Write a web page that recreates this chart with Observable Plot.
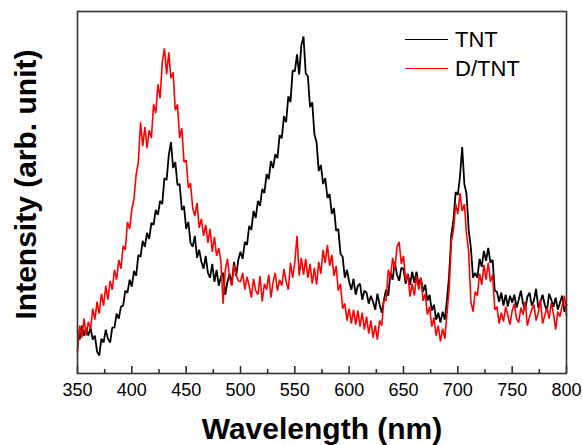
<!DOCTYPE html>
<html>
<head>
<meta charset="utf-8">
<script src="https://cdn.jsdelivr.net/npm/d3@7"></script>
<script src="https://cdn.jsdelivr.net/npm/@observablehq/plot@0.6"></script>
<style>
  html, body { margin: 0; padding: 0; background: #fff; }
  #wrap { position: relative; width: 583px; height: 445px; font-family: "Liberation Sans", Arial, sans-serif; }
  #legend { position: absolute; left: 405px; top: 25px; font-size: 22px; line-height: 29px; color: #000; }
  .row { display: flex; align-items: center; }
  .sw { display: inline-block; width: 43px; height: 0; border-top: 1.5px solid; margin-right: 7px; }
</style>
</head>
<body>
<div id="wrap"></div>
<script>
// Sampling of the spectra (nm)
const startNm = 350, stepNm = 2;

// TNT intensity (arb. unit), one value every 2 nm from 350 to 800 nm
const tnt = [
  43,34,48,38,46,38,46,34,38,22, 18,35,31,44,35,31,46,46,60,55, 67,68,83,81,94,
  87,103,98,119,117,133,127,141,135,151, 149,164,159,173,170,196,194,219,232,206, 212,189,190,164,168,
  145,152,131,127,138,116,124,112,105,118, 101,96,110,92,104,88,97,101,79,92, 100,89,112,98,114,
  122,115,132,129,148,144,163,156,173,168, 185,181,200,195,213,206,220,216,239,236, 258,252,278,272,304,
  303,320,300,329,338,301,298,267,272,240, 232,203,209,190,196,176,180,160,166,143, 145,120,117,96,104,
  92,84,95,79,88,90,74,83,81,70, 78,72,64,80,69,61,74,84,78,101, 94,112,99,93,106,
  105,90,100,89,102,91,102,88,96,82, 89,73,79,63,69,54,61,51,62,54, 74,99,139,154,182,
  179,198,227,190,180,144,126,96,101,96, 115,107,123,113,126,111,114,83,82,72, 81,68,79,67,78,
  71,79,66,74,83,70,64,77,81,68, 73,85,66,72,79,69,63,80,74,67, 76,64,71,78,62,
  69
];

// D/TNT intensity (arb. unit), one value every 2 nm from 350 to 800 nm
const dtnt = [
  22,48,36,55,38,52,44,65,54,72, 60,80,68,88,74,93,84,104,94,114, 105,128,124,152,145,
  165,175,200,212,252,228,247,226,244,236, 270,261,290,276,312,326,300,322,296,302, 264,270,236,246,212,
  214,186,191,166,158,171,146,155,138,149, 131,145,122,137,118,126,112,70,104,115, 96,88,109,99,93,
  92,101,84,97,88,76,95,83,79,98, 72,90,84,99,76,92,101,83,94,88, 105,92,84,111,96,
  112,138,98,116,99,115,96,110,90,106, 89,112,100,124,111,129,108,119,98,108, 83,90,65,70,53,
  65,50,64,49,63,47,61,44,57,40, 53,36,48,34,53,48,74,73,104,95, 116,104,127,132,110,
  118,93,100,77,90,78,98,84,96,73, 80,59,67,47,56,38,48,32,45,35, 60,84,132,144,170,
  160,181,163,170,140,122,72,62,82,78, 100,89,109,94,111,92,99,64,67,50, 61,52,67,58,49,
  63,70,55,51,66,59,72,48,57,64, 69,53,61,74,50,58,66,55,71,60, 44,62,57,68,78,
  58
];

const seriesNames = ["TNT", "D/TNT"];
const seriesColors = ["#000000", "#ff0000"];
const majorTicks = [350, 400, 450, 500, 550, 600, 650, 700, 750, 800];
const minorTicks = [375, 425, 475, 525, 575, 625, 675, 725, 775];
const xTitle = "Wavelength (nm)";
const yTitle = "Intensity (arb. unit)";

const rows = [];
tnt.forEach((v, i) => rows.push({nm: startNm + i * stepNm, value: v, series: "TNT"}));
dtnt.forEach((v, i) => rows.push({nm: startNm + i * stepNm, value: v, series: "D/TNT"}));

const chart = Plot.plot({
  width: 583,
  height: 445,
  marginLeft: 77,
  marginRight: 17,
  marginTop: 11,
  marginBottom: 72,
  style: {fontFamily: "'Liberation Sans', Arial, sans-serif", background: "#fff", color: "#000"},
  x: {domain: [350, 800], axis: null},
  y: {domain: [0, 363], axis: null},
  color: {domain: seriesNames, range: seriesColors},
  marks: [
    Plot.line(rows.filter(d => d.series === "TNT"), {x: "nm", y: "value", stroke: "series", strokeWidth: 1.8, strokeLinejoin: "miter"}),
    Plot.line(rows.filter(d => d.series === "D/TNT"), {x: "nm", y: "value", stroke: "series", strokeWidth: 1.6, strokeLinejoin: "miter"}),
    Plot.tickX(majorTicks, {x: d => d, insetTop: 355, stroke: "#222", strokeWidth: 1.5}),
    Plot.tickX(minorTicks, {x: d => d, insetTop: 358, stroke: "#222", strokeWidth: 1.5}),
    Plot.axisX(majorTicks, {tickSize: 0, tickPadding: 10, fontSize: 18, label: null, tickFormat: d => String(d)}),
    Plot.frame({stroke: "#333", strokeWidth: 1.6}),
    Plot.text([xTitle], {frameAnchor: "bottom", dy: 56, fontSize: 30, fontWeight: "bold", textAnchor: "middle", lineAnchor: "middle", fill: "#000"}),
    Plot.text([yTitle], {frameAnchor: "left", dx: -51, dy: -8, rotate: -90, fontSize: 30, fontWeight: "bold", textAnchor: "middle", lineAnchor: "middle", fill: "#000"})
  ]
});

const wrap = document.getElementById("wrap");
wrap.appendChild(chart);

const legend = document.createElement("div");
legend.id = "legend";
seriesNames.forEach((name, i) => {
  const row = document.createElement("div");
  row.className = "row";
  const sw = document.createElement("span");
  sw.className = "sw";
  sw.style.borderTopColor = seriesColors[i];
  const label = document.createElement("span");
  label.textContent = name;
  row.appendChild(sw);
  row.appendChild(label);
  legend.appendChild(row);
});
wrap.appendChild(legend);
</script>
</body>
</html>
